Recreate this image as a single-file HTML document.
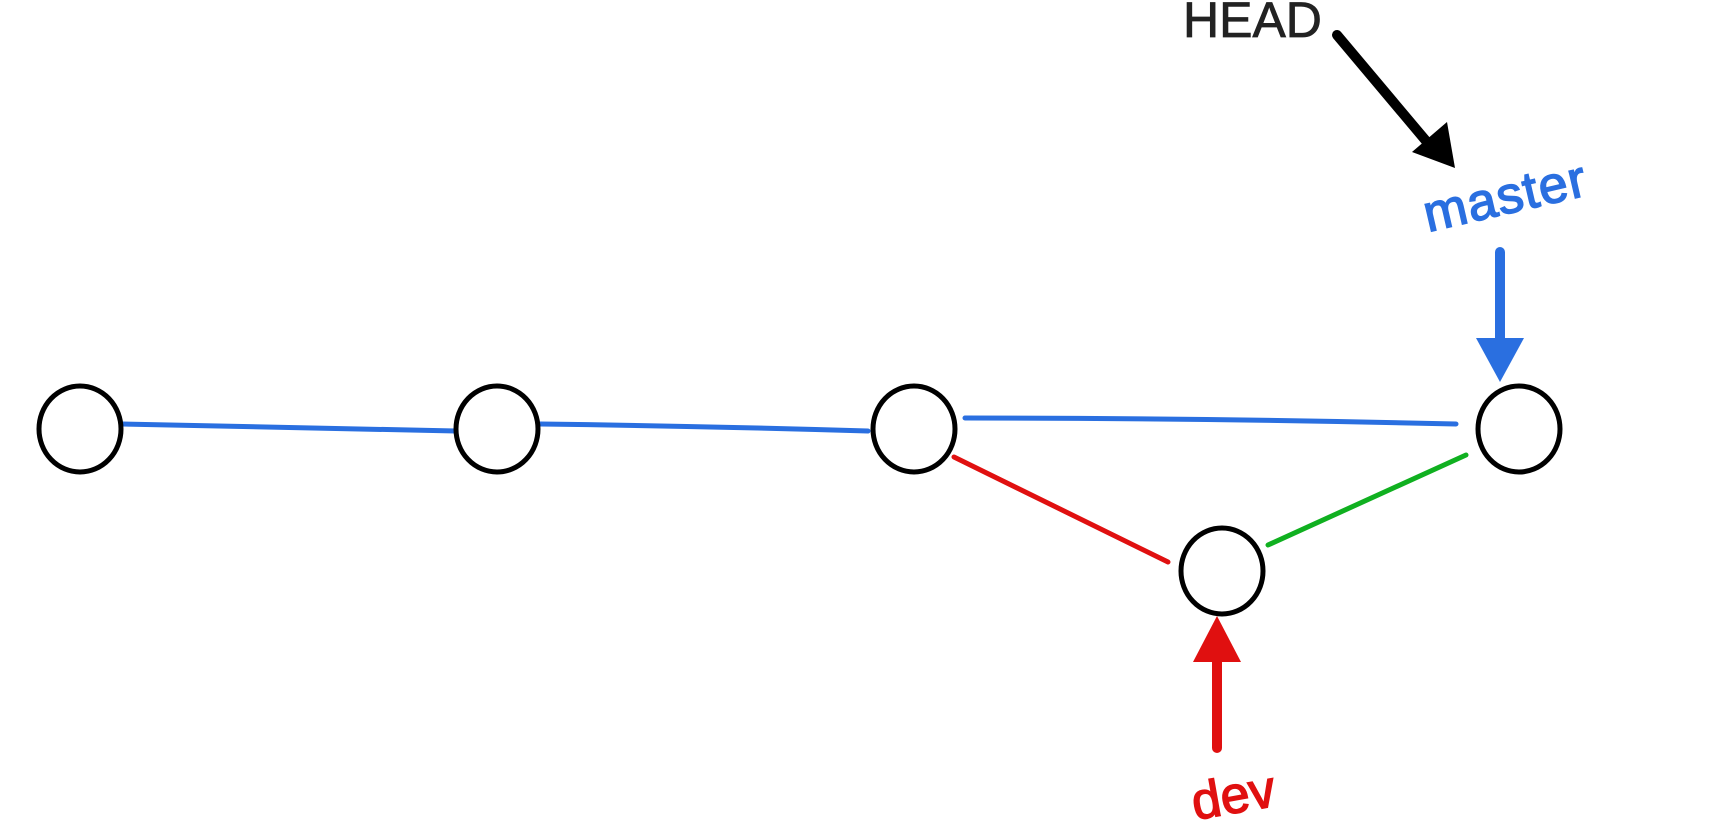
<!DOCTYPE html>
<html><head><style>
html,body{margin:0;padding:0;background:#fff;}
svg{display:block;}
</style></head><body>
<svg width="1729" height="824" viewBox="0 0 1729 824" xmlns="http://www.w3.org/2000/svg">
<g fill="none" stroke-linecap="round">
<path d="M122,424 Q300,428 456,431" stroke="#2a6fe0" stroke-width="5"/>
<path d="M540,424 Q700,426 868,431" stroke="#2a6fe0" stroke-width="5"/>
<path d="M965,418 Q1200,418 1456,424" stroke="#2a6fe0" stroke-width="5"/>
<path d="M954,457 L1168,562" stroke="#e01010" stroke-width="5"/>
<path d="M1268,545 L1466,455" stroke="#10b020" stroke-width="5"/>
<path d="M1337,35 L1432,148" stroke="#000" stroke-width="10"/>
<path d="M1500,252 L1500,352" stroke="#2a6fe0" stroke-width="10"/>
<path d="M1217,748 L1217,648" stroke="#e01010" stroke-width="10"/>
</g>
<polygon points="1455,168 1412,152 1447,122" fill="#000"/>
<polygon points="1500,382 1476,338 1524,338" fill="#2a6fe0"/>
<polygon points="1217,616 1193,662 1241,662" fill="#e01010"/>
<g fill="#fff" stroke="#000" stroke-width="5">
<ellipse cx="80" cy="429" rx="41" ry="43"/>
<ellipse cx="497" cy="429" rx="41" ry="43"/>
<ellipse cx="914" cy="429" rx="41" ry="43"/>
<ellipse cx="1519" cy="429" rx="41" ry="43"/>
<ellipse cx="1222" cy="571" rx="41" ry="43"/>
</g>
<text x="1183" y="37" font-family="Liberation Sans, sans-serif" font-size="50" fill="#222" stroke="#222" stroke-width="0.8">HEAD</text>
<text x="1428" y="232" font-family="Liberation Sans, sans-serif" font-size="52" fill="#2a6fe0" stroke="#2a6fe0" stroke-width="1.5" transform="rotate(-13 1428 232)" textLength="165">master</text>
<text x="1195" y="820" font-family="Liberation Sans, sans-serif" font-size="52" fill="#e01010" stroke="#e01010" stroke-width="1.5" transform="rotate(-10 1195 820)">dev</text>
</svg>
</body></html>
